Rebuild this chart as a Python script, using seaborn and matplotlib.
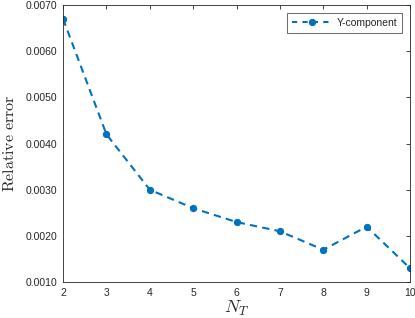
import matplotlib
matplotlib.use("Agg")
import matplotlib.pyplot as plt
import seaborn as sns
import pandas as pd

n_t = [2, 3, 4, 5, 6, 7, 8, 9, 10]
y_component = [0.0067, 0.0042, 0.0030, 0.0026, 0.0023, 0.0021, 0.0017, 0.0022, 0.0013]
series_name = "Y-component"
y_ticks = [0.0010, 0.0020, 0.0030, 0.0040, 0.0050, 0.0060, 0.0070]

sns.set_style("white")
plt.rcParams['font.family'] = ['Liberation Sans', 'DejaVu Sans']
plt.rcParams['mathtext.fontset'] = 'cm'

df = pd.DataFrame({"N_T": n_t, "err": y_component, "series": series_name})

fig = plt.figure(figsize=(4.15, 3.18), dpi=100)
ax = fig.add_axes([0.152, 0.113, 0.836, 0.871])
blue = "#0072BD"
sns.lineplot(data=df, x="N_T", y="err", hue="series", palette=[blue], ax=ax,
             linestyle="--", marker="o", markersize=4.5, linewidth=1.5,
             markeredgecolor=blue, dashes=False)
for l in ax.lines:
    l.set_linestyle((0, (3.5, 2.5)))

ax.set_xlim(2, 10)
ax.set_ylim(0.001, 0.007)
ax.set_xticks(n_t)
ax.set_yticks(y_ticks)
ax.set_yticklabels([f"{v:.4f}" for v in y_ticks])
ax.tick_params(direction="in", length=3, width=0.6, colors="#262626", labelsize=7.5,
               top=True, right=True, pad=4)
for s in ax.spines.values():
    s.set_color("#262626")
    s.set_linewidth(0.6)
ax.set_xlabel(r"$N_T$", fontsize=13, color="#262626", labelpad=1)
ax.set_ylabel(r"$\mathrm{Relative\ error}$", fontsize=11.5, color="#262626", labelpad=6)

leg = ax.legend(loc="upper right", fontsize=7.5, frameon=True, fancybox=False,
                edgecolor="#262626", borderpad=0.45, handlelength=4, handletextpad=0.3,
                borderaxespad=0.8)
leg.get_frame().set_linewidth(0.6)
for line in leg.get_lines():
    line.set_linestyle((0, (2.5, 2.5)))

fig.savefig("out.png", dpi=100)
